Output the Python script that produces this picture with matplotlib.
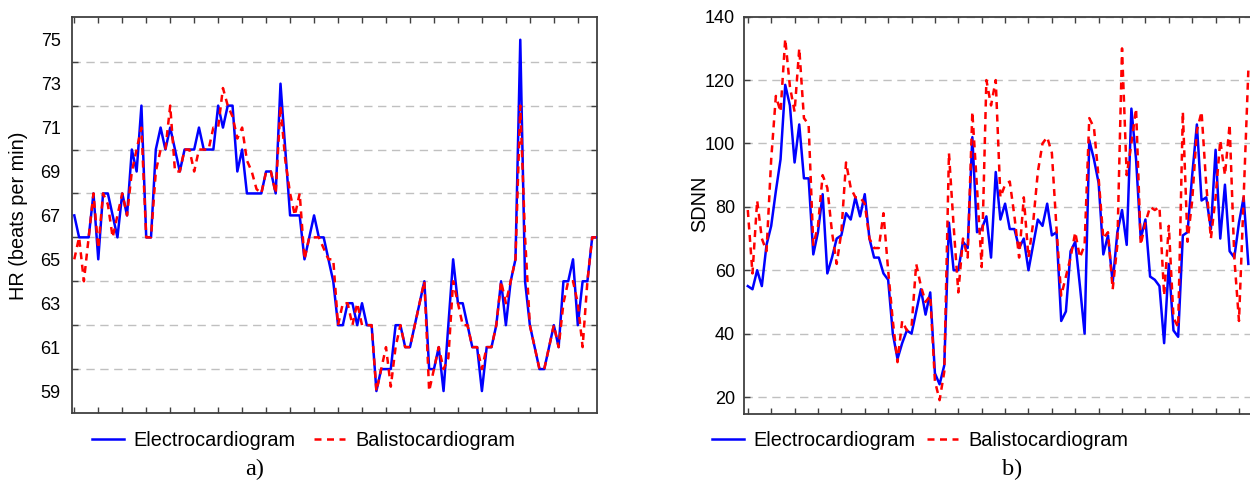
import numpy as np
import matplotlib
matplotlib.use("Agg")
import matplotlib.pyplot as plt
from matplotlib.ticker import MultipleLocator, FixedLocator

# a) tętno (HR) - EKG i balistokardiogram
hr_ekg = [67, 66, 66, 66, 68, 65, 68, 68, 67, 66, 68, 67, 70, 69, 72, 66, 66, 70, 71, 70,
          71, 70, 69, 70, 70, 70, 71, 70, 70, 70, 72, 71, 72, 72, 69,
          70, 68, 68, 68, 68, 69, 69, 68, 73, 70, 67, 67, 67, 65, 66, 67, 66, 66, 65, 64,
          62, 62, 63, 63, 62, 63, 62, 62, 59, 60, 60, 60, 62, 62, 61, 61,
          62, 63, 64, 60, 60, 61, 59, 62, 65, 63, 63, 62, 61, 61, 59, 61, 61, 62, 64, 62,
          64, 65, 75, 64, 62, 61, 60, 60, 61, 62, 61, 64, 64, 65, 62, 64, 64, 66, 66]
hr_bkg = [65, 66, 64, 66, 68, 65.5, 68, 67.5, 66, 67, 68, 67, 69, 70, 71, 66, 66, 69, 70, 70,
          72, 69, 69, 70, 70, 69, 70, 70, 70, 71, 71, 72.8, 72, 71.5, 70.5,
          71, 69.5, 69, 68.2, 68, 69, 69, 68, 72, 69.5, 68, 67, 68, 65, 66, 66, 66, 65.5, 65, 65,
          62, 63, 63, 62, 63, 62, 62, 62, 59, 60, 61, 59.2, 61, 62, 61, 61,
          62, 63, 64, 59, 60, 61, 60, 60.5, 64, 63, 62, 62, 61, 61, 60, 61, 61, 62, 64, 63,
          64, 65, 72, 66, 62, 61, 60, 60, 61, 62, 61, 63, 64, 64, 63, 61, 64, 66, 66]

# b) SDNN - EKG i balistokardiogram
sdnn_ekg = [55, 54, 60, 55, 68, 74, 85, 95, 118.5, 112, 94, 106, 89, 89, 65, 72, 84, 59, 64, 70,
            71, 78, 76, 83, 77, 84, 70, 64, 64, 59, 57, 40, 32, 37, 41,
            40, 47, 54, 46, 53, 27.5, 24, 30, 75, 60, 60, 69, 67, 102, 72, 73, 77, 64, 91, 76,
            81, 73, 73, 67, 70, 60, 68, 76, 74, 81, 71, 72, 44, 47,
            66, 69, 55, 40, 101, 95, 87.5, 65, 71, 56, 72, 79, 68, 111, 95, 70, 76, 58, 57, 55,
            37, 62, 41, 39, 71, 72, 90, 106, 82, 83, 73, 98, 70, 87, 66, 64, 75, 83, 62]
sdnn_bkg = [79, 59, 82, 70, 66, 95, 115, 110, 133, 118, 110, 130, 108, 106, 68, 74, 90, 86, 72, 62,
            72, 94, 86, 83, 83, 81, 70, 67, 67, 78, 60, 44, 31, 44, 41,
            42, 62, 55, 50, 52, 25, 19, 28, 97, 74, 53, 70, 64, 110, 86, 61, 120, 112, 120, 83,
            87, 88, 77, 64, 83, 64, 75, 91, 100, 102, 97, 73, 52, 58,
            64, 72, 64, 68, 108, 105, 89, 70, 72, 54, 68, 130, 90, 100, 111, 68, 75, 80, 79, 80,
            52, 74, 45, 42, 110, 69, 82, 104, 110, 87, 70, 83, 101, 90, 106, 64, 44, 83, 123]

etykiety = ["Electrocardiogram", "Balistocardiogram"]

plt.rcParams["font.family"] = ["Liberation Sans", "DejaVu Sans"]

W, H = 1250, 486
fig = plt.figure(figsize=(W / 100, H / 100), dpi=100)


def px_box(x0, y0, x1, y1):
    # prostokat w pikselach -> wspolrzedne figury
    return [x0 / W, 1 - y1 / H, (x1 - x0) / W, (y1 - y0) / H]


def styl_osi(ax):
    for s in ax.spines.values():
        s.set_color("#404040")
        s.set_linewidth(1.3)
    ax.tick_params(axis="both", which="both", direction="in", colors="#404040",
                   labelcolor="black", labelsize=13, width=1.0)
    ax.tick_params(axis="x", which="both", top=True, bottom=True, labelbottom=False, length=4)


grid_kw = dict(color="#c0c0c0", linestyle=(0, (6, 4)), linewidth=1.0)
ekg_kw = dict(color="#0000ff", linewidth=1.8)
bkg_kw = dict(color="#ff0000", linewidth=1.8, linestyle=(0, (2.8, 2.2)))

# --- wykres a) ---
ax1 = fig.add_axes(px_box(71.7, 16.7, 597, 413))
x1 = np.arange(len(hr_ekg))
ax1.plot(x1, hr_ekg, **ekg_kw, label=etykiety[0], zorder=3)
ax1.plot(x1, hr_bkg, **bkg_kw, label=etykiety[1], zorder=4)
ax1.set_xlim(-0.54, 109.0)
ax1.set_ylim(58, 76.05)
ax1.xaxis.set_major_locator(MultipleLocator(5))
ax1.yaxis.set_major_locator(FixedLocator(range(59, 76, 2)))
ax1.yaxis.set_minor_locator(FixedLocator(range(60, 75, 2)))
styl_osi(ax1)
ax1.tick_params(axis="y", which="major", length=0, pad=8)
ax1.tick_params(axis="y", which="minor", left=True, right=True, length=4)
ax1.grid(False)
ax1.grid(True, which="minor", axis="y", **grid_kw)
ax1.set_axisbelow(True)

# --- wykres b) ---
ax2 = fig.add_axes(px_box(743.5, 16.7, 1249.5, 413.5))
x2 = np.arange(len(sdnn_ekg))
ax2.plot(x2, sdnn_ekg, **ekg_kw, label=etykiety[0], zorder=3)
ax2.plot(x2, sdnn_bkg, **bkg_kw, label=etykiety[1], zorder=4)
ax2.set_xlim(-0.92, 107.25)
ax2.set_ylim(14.8, 140)
ax2.xaxis.set_major_locator(MultipleLocator(5))
ax2.yaxis.set_major_locator(MultipleLocator(20))
styl_osi(ax2)
ax2.tick_params(axis="y", which="major", left=True, right=False, length=4, pad=6)
ax2.grid(True, which="major", axis="y", **grid_kw)
ax2.spines["right"].set_visible(False)
ax2.set_axisbelow(True)

# opisy osi
fig.text(19 / W, 1 - 216 / H, "HR (beats per min)", rotation=90, ha="center", va="center", fontsize=14.3)
fig.text(700 / W, 1 - 204 / H, "SDNN", rotation=90, ha="center", va="center", fontsize=14.3)

# legendy pod wykresami
leg_kw = dict(loc="center left", ncol=2, frameon=False, fontsize=14.3, handlelength=1.6,
              handletextpad=0.5, borderaxespad=0, borderpad=0)
fig.legend(*ax1.get_legend_handles_labels(), bbox_to_anchor=(92 / W, 1 - 440 / H),
           columnspacing=0.9, **leg_kw)
fig.legend(*ax2.get_legend_handles_labels(), bbox_to_anchor=(712 / W, 1 - 440 / H),
           columnspacing=0.55, **leg_kw)

# podpisy a) b)
fig.text(255 / W, 1 - 469 / H, "a)", ha="center", va="center", fontsize=17.5, family="Liberation Serif")
fig.text(1012 / W, 1 - 469 / H, "b)", ha="center", va="center", fontsize=17.5, family="Liberation Serif")

fig.savefig("out.png", dpi=100)
